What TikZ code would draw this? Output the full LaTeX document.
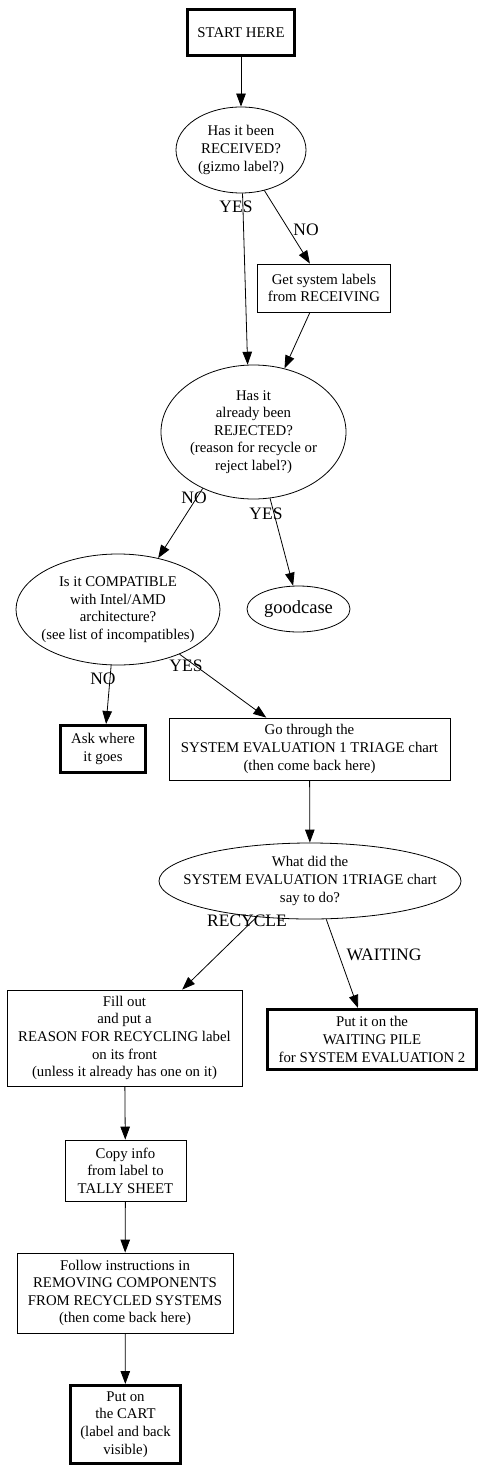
\documentclass[tikz,border=0pt]{standalone}
\usepackage{fontspec}
\setmainfont{Liberation Serif}
\usepackage{tikz}
\usetikzlibrary{shapes.geometric, arrows.meta, positioning}
\tikzset{
  block/.style={rectangle, draw=black, align=center, line width=0.8pt,
    inner sep=2pt, font=\fontsize{14.8}{17.6}\selectfont},
  endblock/.style={block, line width=3pt},
  decision/.style={ellipse, draw=black, align=center, line width=0.8pt,
    inner sep=0pt, font=\fontsize{14.8}{17.6}\selectfont},
  arrow/.style={-{Triangle[length=13pt,width=9.5pt]}, line width=0.8pt},
  edgelabel/.style={inner sep=0pt, font=\fontsize{17.5}{20}\selectfont}
}

\begin{document}
\begin{tikzpicture}[x=1pt, y=-1pt]
  \useasboundingbox (0,0) rectangle (484,1471);

  % Start and the two first questions
  \node[endblock, minimum width=107pt, minimum height=46pt] (start) at (241,33) {START HERE};
  \node[decision, minimum width=130pt, minimum height=86pt] (rec) at (241,150) {Has it been\\RECEIVED?\\(gizmo label?)};
  \node[block, minimum width=133pt, minimum height=48pt] (get) at (324,288) {Get system labels\\from RECEIVING};
  \node[decision, minimum width=185pt, minimum height=134pt] (rej) at (253.5,432) {Has it\\already been\\REJECTED?\\(reason for recycle or\\reject label?)};

  % Compatibility check
  \node[decision, minimum width=204pt, minimum height=111pt, inner xsep=-8pt] (comp) at (118,609.5) {Is it COMPATIBLE\\with Intel/AMD\\architecture?\\(see list of incompatibles)};
  \node[decision, minimum width=103pt, minimum height=46pt, font=\fontsize{18.5}{21}\selectfont] (good) at (298.5,609) {goodcase};
  \node[endblock, minimum width=85pt, minimum height=47pt] (ask) at (103,749) {Ask where\\it goes};
  \node[block, minimum width=281pt, minimum height=62pt] (go) at (309.5,749) {Go through the\\SYSTEM EVALUATION 1 TRIAGE chart\\(then come back here)};

  % Triage result
  \node[decision, minimum width=302pt, minimum height=76pt, inner xsep=-25pt] (what) at (310,881) {What did the\\SYSTEM EVALUATION 1TRIAGE chart\\say to do?};
  \node[block, minimum width=235pt, minimum height=96pt] (fill) at (124.5,1038) {Fill out\\and put a\\REASON FOR RECYCLING label\\on its front\\(unless it already has one on it)};
  \node[endblock, minimum width=209pt, minimum height=60pt] (wait) at (372,1039.5) {Put it on the\\WAITING PILE\\for SYSTEM EVALUATION 2};

  % Recycling steps
  \node[block, minimum width=121pt, minimum height=61pt] (copy) at (125.5,1170.5) {Copy info\\from label to\\TALLY SHEET};
  \node[block, minimum width=216pt, minimum height=80pt] (follow) at (125,1293) {Follow instructions in\\REMOVING COMPONENTS\\FROM RECYCLED SYSTEMS\\(then come back here)};
  \node[endblock, minimum width=110pt, minimum height=78pt] (cart) at (125.5,1424.5) {Put on\\the CART\\(label and back\\visible)};

  % Edges
  \draw[arrow] (start) -- (rec);
  \draw[arrow] (rec.-88) -- (rej.95);
  \draw[arrow] (rec.-60) -- (get.120);
  \draw[arrow] (get.240) -- (rej.64);
  \draw[arrow] (rej.228) -- (comp.52);
  \draw[arrow] (rej.-76) -- (good.103);
  \draw[arrow] (comp.-97) -- (ask.83);
  \draw[arrow] (comp.-36) -- (go.144);
  \draw[arrow] (go) -- (what);
  \draw[arrow] (what.214) -- (fill.40);
  \draw[arrow] (what.-67) -- (wait.114);
  \draw[arrow] (fill) -- (copy);
  \draw[arrow] (copy) -- (follow);
  \draw[arrow] (follow) -- (cart);

  % Edge labels
  \node[edgelabel] (yesrec) at (236,207) {YES};
  \node[edgelabel] (norec) at (306,230) {NO};
  \node[edgelabel] (norej) at (194,498) {NO};
  \node[edgelabel] (yesrej) at (266,514) {YES};
  \node[edgelabel] (nocomp) at (103,679) {NO};
  \node[edgelabel] (yescomp) at (186,666) {YES};
  \node[edgelabel] (recycle) at (247,921) {RECYCLE};
  \node[edgelabel] (waiting) at (384,955) {WAITING};
\end{tikzpicture}
\end{document}
